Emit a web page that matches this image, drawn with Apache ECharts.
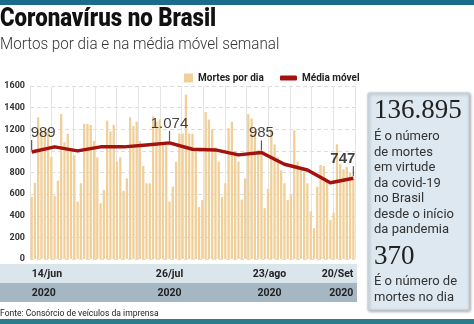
<!DOCTYPE html>
<html>
<head>
<meta charset="utf-8">
<script src="https://cdn.jsdelivr.net/npm/echarts@6/dist/echarts.min.js"></script>
<style>
  html, body { margin: 0; padding: 0; background: #fff; }
  #chart { width: 474px; height: 324px; }
</style>
</head>
<body>
<div id="chart"></div>
<script>
// Daily deaths, 14/jun to 20/set 2020
const dias = [];
(function () {
  const meses = ['jan','fev','mar','abr','mai','jun','jul','ago','set'];
  const d = new Date(2020, 5, 14);
  for (let i = 0; i < 99; i++) {
    dias.push(String(d.getDate()).padStart(2, '0') + '/' + meses[d.getMonth()]);
    d.setDate(d.getDate() + 1);
  }
})();

const mortesPorDia = [
  575, 705, 1310, 1190, 1190, 1200, 945,
  585, 725, 1340, 1080, 1160, 1000, 960,
  530, 700, 1250, 1250, 1240, 1090, 940,
  515, 640, 1280, 1180, 1240, 900, 940,
  630, 745, 1310, 1230, 1270, 1090, 860,
  700, 700, 1320, 1270, 1290, 1080, 1080,
  530, 670, 900, 1160, 1160, 1520, 1160,
  1160, 1020, 480, 545, 1360, 1290, 1200,
  1030, 900, 575, 700, 1210, 1270, 1000,
  900, 550, 745, 1340, 1300, 1200, 1010,
  1000, 470, 650, 1190, 1060, 940, 820,
  700, 545, 590, 1190, 900, 850, 800,
  700, 440, 285, 670, 870, 860, 720,
  360, 430, 1060, 880, 830, 850, 800,
  740
];

// 7-day moving average, one point per week (Sundays)
const semanaIdx = [0, 7, 14, 21, 28, 35, 42, 49, 56, 63, 70, 77, 84, 91, 98];
const mediaMovel = [989, 1037, 1000, 1037, 1037, 1055, 1074, 1015, 1009, 963, 985, 876, 823, 706, 747];

// Points carrying a value callout: index into mediaMovel, and label alignment
const destaques = [
  { i: 0, align: 'left' },
  { i: 6, align: 'center' },
  { i: 10, align: 'center' },
  { i: 14, align: 'right' }
];

// Tick labels shown on the date axis
const rotulosData = { 0: '14/jun', 42: '26/jul', 70: '23/ago', 98: '20/Set' };
const anoRotulo = '2020';

const yTicks = { min: 0, max: 1600, step: 200 };

const totalMortes = '136.895';
const mortesNoDia = '370';

const linhaMedia = dias.map(() => null);
semanaIdx.forEach((k, j) => { linhaMedia[k] = mediaMovel[j]; });

const fmtBR = v => v >= 1000 ? Math.floor(v / 1000) + '.' + String(v % 1000).padStart(3, '0') : String(v);

const sans = "'Roboto', 'Liberation Sans', sans-serif";
const TAN = '#f0cf98';
const RED = '#a3120f';

const chart = echarts.init(document.getElementById('chart'), null, { renderer: 'canvas' });

const rich = {
  d: { fontFamily: sans, fontWeight: 'bold', fontSize: 10.5, color: '#222', lineHeight: 19 },
  a: { fontFamily: sans, fontWeight: 'bold', fontSize: 10.5, color: '#222', lineHeight: 19 },
  ds: { fontFamily: sans, fontWeight: 'bold', fontSize: 10.5, color: '#222', lineHeight: 19, padding: [0, 0, 0, 16] },
  as: { fontFamily: sans, fontWeight: 'bold', fontSize: 10.5, color: '#222', lineHeight: 19, padding: [0, 0, 0, 16] }
};

chart.setOption({
  animation: false,
  backgroundColor: '#fff',
  grid: { left: 30, right: 119, top: 86, bottom: 65, containLabel: false },
  legend: [
    {
      data: [{ name: 'Mortes por dia', icon: 'rect' }],
      left: 179, top: 68, itemWidth: 9, itemHeight: 9, itemGap: 4,
      textStyle: { fontFamily: sans, fontWeight: 'bold', fontSize: 10, color: '#222' }
    },
    {
      data: [{ name: 'Média móvel', icon: 'roundRect' }],
      left: 275, top: 68, itemWidth: 17, itemHeight: 5, itemGap: 4,
      textStyle: { fontFamily: sans, fontWeight: 'bold', fontSize: 10, color: '#222' }
    }
  ],
  xAxis: [
    {
      type: 'category',
      data: dias,
      boundaryGap: true,
      axisLine: { show: false },
      axisTick: { show: false },
      splitLine: { show: false },
      axisLabel: {
        interval: (idx) => rotulosData[idx] !== undefined,
        formatter: (v, idx) => idx === 70
          ? '{ds|' + rotulosData[idx] + '}\n{as|' + anoRotulo + '}'
          : '{d|' + rotulosData[idx] + '}\n{a|' + anoRotulo + '}',
        margin: 6,
        alignMinLabel: 'left',
        alignMaxLabel: 'right',
        rich: rich
      }
    },
    {
      // evenly spaced vertical guide lines
      type: 'value', min: 0, max: 15, interval: 1,
      axisLine: { show: false }, axisTick: { show: false }, axisLabel: { show: false },
      splitLine: { show: true, lineStyle: { color: '#e4e4e4', width: 1 } }
    }
  ],
  yAxis: {
    type: 'value', min: yTicks.min, max: yTicks.max, interval: yTicks.step,
    axisLine: { show: false }, axisTick: { show: false },
    axisLabel: { fontFamily: sans, fontWeight: 'bold', fontSize: 9, color: '#333', margin: 5, formatter: v => String(v) },
    splitLine: { show: true, lineStyle: { color: '#dcdcdc', type: [4, 3], width: 1 } }
  },
  graphic: [
    { type: 'rect', z: -10, shape: { x: 0, y: 0, width: 474, height: 5 }, style: { fill: '#1b6b8c' } },
    { type: 'rect', z: -10, shape: { x: 0, y: 319, width: 474, height: 5 }, style: { fill: '#2b7d8e' } },
    { type: 'rect', z: -10, shape: { x: 0, y: 264, width: 357, height: 19 }, style: { fill: '#dbe5ec' } },
    { type: 'rect', z: -10, shape: { x: 0, y: 283, width: 357, height: 19 }, style: { fill: '#a6b7c4' } },
    {
      type: 'text', x: 0, y: 7, scaleX: 0.89,
      style: { text: 'Coronavírus no Brasil', font: "900 25px " + sans, fill: '#111' }
    },
    {
      type: 'text', x: 0, y: 37, scaleX: 0.95,
      style: { text: 'Mortos por dia e na média móvel semanal', font: "300 16px 'Roboto', sans-serif", fill: '#333' }
    },
    {
      type: 'text', x: 0, y: 309, scaleX: 0.9,
      style: { text: 'Fonte: Consórcio de veículos da imprensa', font: "9.5px " + sans, fill: '#222' }
    },
    {
      type: 'group', x: 368, y: 93,
      children: [
        {
          type: 'rect', shape: { x: 0, y: 0, width: 101, height: 217 },
          style: { fill: '#dde8f0', stroke: '#c3d0da', lineWidth: 1, shadowBlur: 3, shadowOffsetX: 1, shadowOffsetY: 1, shadowColor: 'rgba(0,0,0,0.35)' }
        },
        { type: 'text', x: 6, y: 4, style: { text: totalMortes, font: "27px 'Liberation Serif', serif", fill: '#222' } },
        {
          type: 'text', x: 6, y: 36,
          style: {
            text: 'É o número\nde mortes\nem virtude\nda covid-19\nno Brasil\ndesde o início\nda pandemia',
            font: "13px " + sans, lineHeight: 15.5, fill: '#333'
          }
        },
        { type: 'text', x: 6, y: 150, style: { text: mortesNoDia, font: "27px 'Liberation Serif', serif", fill: '#222' } },
        {
          type: 'text', x: 6, y: 181,
          style: { text: 'É o número de\nmortes no dia', font: "13px " + sans, lineHeight: 15.5, fill: '#333' }
        }
      ]
    }
  ],
  series: [
    {
      name: 'Mortes por dia',
      type: 'bar',
      data: mortesPorDia,
      barCategoryGap: '30%',
      itemStyle: { color: TAN },
      z: 2
    },
    {
      name: 'Média móvel',
      type: 'line',
      data: linhaMedia,
      connectNulls: true,
      symbol: 'none',
      lineStyle: { color: RED, width: 3.5, join: 'round' },
      itemStyle: { color: RED },
      z: 5
    },
    {
      // callout ticks and values above selected weekly points
      name: 'destaque',
      type: 'scatter',
      symbol: 'rect',
      symbolSize: [1.2, 10],
      symbolOffset: [0, -7],
      itemStyle: { color: '#333' },
      z: 6,
      data: destaques.map(d => ({
        value: [semanaIdx[d.i], mediaMovel[d.i]],
        label: {
          show: true,
          position: 'top',
          distance: 0,
          align: d.align,
          offset: [d.align === 'left' ? -1 : d.align === 'right' ? 2 : 0, 0],
          formatter: () => fmtBR(mediaMovel[d.i]),
          fontFamily: "'Liberation Sans', sans-serif",
          fontSize: 15,
          fontWeight: d.i === 14 ? 'bold' : 'normal',
          color: '#111'
        }
      }))
    }
  ]
});
</script>
</body>
</html>
